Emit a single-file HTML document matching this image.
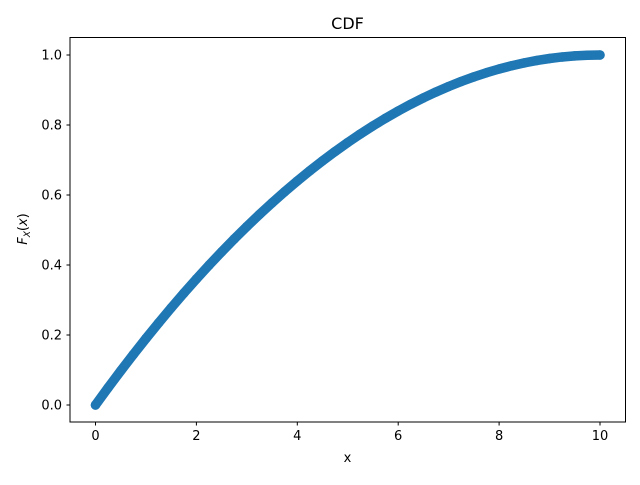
<!DOCTYPE html>
<html><head><meta charset="utf-8"><style>
body{margin:0;background:#fff}
svg text{font-family:"DejaVu Sans","Liberation Sans",sans-serif;fill:#000}
</style></head><body>
<svg id="chart" width="640" height="480" xmlns="http://www.w3.org/2000/svg">
<rect width="640" height="480" fill="#fff"/>
<g id="plot"></g>
<rect x="70" y="37.5" width="555.5" height="384.5" fill="none" stroke="#000" stroke-width="1"/>
<text x="347.5" y="29" font-size="16" text-anchor="middle">CDF</text>
<text x="347.5" y="462" font-size="13" text-anchor="middle">x</text>
<text transform="translate(27,229) rotate(-90)" font-size="13" text-anchor="middle"><tspan font-style="italic">F</tspan><tspan font-style="italic" font-size="9" dy="3">X</tspan><tspan dy="-3">(</tspan><tspan font-style="italic">x</tspan>)</text>
<g id="ticks"></g>
</svg>
<script>
const xTicks=[0,2,4,6,8,10];
const yTicks=[0.0,0.2,0.4,0.6,0.8,1.0];
const xValues=[0,0.25,0.5,0.75,1,1.25,1.5,1.75,2,2.25,2.5,2.75,3,3.25,3.5,3.75,4,4.25,4.5,4.75,5,5.25,5.5,5.75,6,6.25,6.5,6.75,7,7.25,7.5,7.75,8,8.25,8.5,8.75,9,9.25,9.5,9.75,10];
const yValues=[0,0.0494,0.0975,0.1444,0.19,0.2344,0.2775,0.3194,0.36,0.3994,0.4375,0.4744,0.51,0.5444,0.5775,0.6094,0.64,0.6694,0.6975,0.7244,0.75,0.7744,0.7975,0.8194,0.84,0.8594,0.8775,0.8944,0.91,0.9244,0.9375,0.9494,0.96,0.9694,0.9775,0.9844,0.99,0.9944,0.9975,0.9994,1];
const NS="http://www.w3.org/2000/svg";
function sx(v){return 95.5+50.45*v;}
function sy(v){return 405-350*v;}
const plot=document.getElementById('plot');
const ticks=document.getElementById('ticks');
const pts=xValues.map((x,i)=>sx(x)+','+sy(yValues[i])).join(' ');
const line=document.createElementNS(NS,'polyline');
line.setAttribute('points',pts);
line.setAttribute('fill','none');
line.setAttribute('stroke','#1f77b4');
line.setAttribute('stroke-width','9.5');
line.setAttribute('stroke-linecap','round');
line.setAttribute('stroke-linejoin','round');


plot.appendChild(line);
xValues.forEach((x,i)=>{
 const c=document.createElementNS(NS,'circle');
 c.setAttribute('cx',sx(x));c.setAttribute('cy',sy(yValues[i]));c.setAttribute('r','4.75');c.setAttribute('fill','#1f77b4');
 
 
 plot.appendChild(c);
});
xTicks.forEach(t=>{
 const l=document.createElementNS(NS,'line');
 l.setAttribute('x1',sx(t));l.setAttribute('x2',sx(t));l.setAttribute('y1',422);l.setAttribute('y2',425.5);l.setAttribute('stroke','#000');
 
 
 ticks.appendChild(l);
 const tx=document.createElementNS(NS,'text');
 tx.setAttribute('x',sx(t));tx.setAttribute('y',440);tx.setAttribute('font-size','13');tx.setAttribute('text-anchor','middle');
 tx.textContent=t;
 
 
 ticks.appendChild(tx);
});
yTicks.forEach(t=>{
 const l=document.createElementNS(NS,'line');
 l.setAttribute('x1',66.5);l.setAttribute('x2',70);l.setAttribute('y1',sy(t));l.setAttribute('y2',sy(t));l.setAttribute('stroke','#000');
 
 
 ticks.appendChild(l);
 const tx=document.createElementNS(NS,'text');
 tx.setAttribute('x',62);tx.setAttribute('y',sy(t)+4.5);tx.setAttribute('font-size','13');tx.setAttribute('text-anchor','end');
 tx.textContent=t.toFixed(1);
 
 
 ticks.appendChild(tx);
});
</script>
</body></html>
